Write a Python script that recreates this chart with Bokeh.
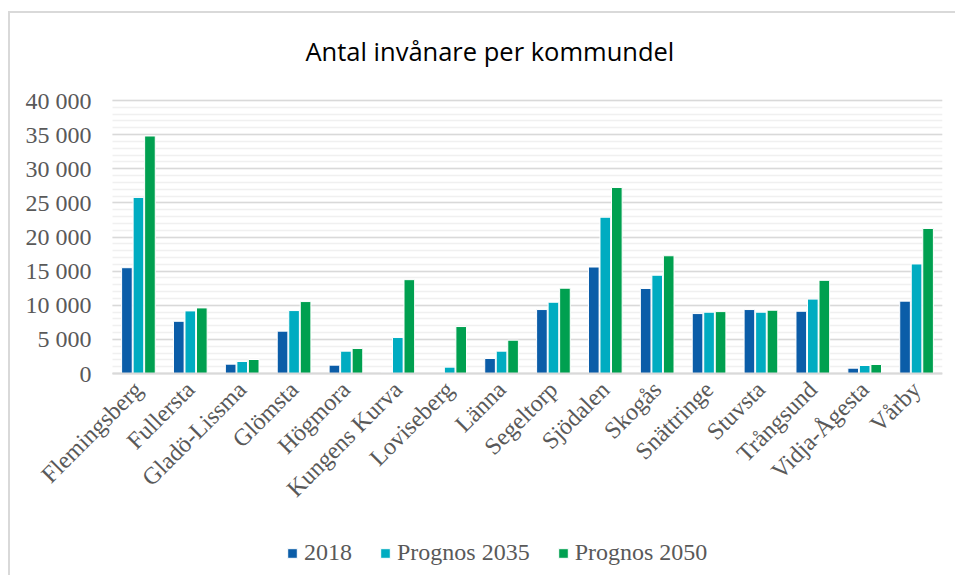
from bokeh.plotting import figure
from bokeh.models import (ColumnDataSource, Range1d, FixedTicker, Grid,
                          CustomJSTickFormatter, Legend, LegendItem)
from bokeh.transform import dodge
from bokeh.embed import file_html
from bokeh.resources import INLINE
import math

categories = ["Flemingsberg", "Fullersta", "Gladö-Lissma", "Glömsta", "Högmora",
              "Kungens Kurva", "Loviseberg", "Länna", "Segeltorp", "Sjödalen",
              "Skogås", "Snättringe", "Stuvsta", "Trångsund", "Vidja-Ågesta", "Vårby"]
v2018 = [15500, 7650, 1370, 6200, 1220, 150, 0, 2200, 9370, 15600,
         12450, 8780, 9370, 9120, 780, 10600]
v2035 = [25800, 9170, 1760, 9220, 3270, 5270, 930, 3270, 10440, 22900,
         14400, 8980, 8980, 10900, 1170, 16050]
v2050 = [34800, 9610, 2050, 10540, 3660, 13750, 6880, 4880, 12500, 27250,
         17250, 9070, 9270, 13650, 1320, 21250]
series_names = ["2018", "Prognos 2035", "Prognos 2050"]
colors = ["#0B5DA8", "#00ACC1", "#00A050"]
title_text = "Antal invånare per kommundel"
y_max = 40000
y_major = list(range(0, y_max + 1, 5000))
y_minor = list(range(0, y_max + 1, 1000))

n = len(categories)
xi = list(range(n))
src = ColumnDataSource(dict(xi=xi, a=v2018, b=v2035, c=v2050))

# layout (pixels)
plot_w = 830          # width of the category band
left_px = 102         # room for the y labels, inside the frame
cat_px = plot_w / n
plot_h = 273          # 0 .. y_max
top_px = 20           # blank above y_max
below_px = 202        # room for x labels and legend, inside the frame
u = y_max / plot_h
x_lo, x_hi = -0.5, n - 0.5

p = figure(frame_width=plot_w + left_px, frame_height=plot_h + top_px + below_px,
           x_range=Range1d(x_lo - left_px / cat_px, x_hi),
           y_range=Range1d(-below_px * u, y_max + top_px * u),
           output_backend="svg", toolbar_location=None,
           min_border_left=0, min_border_right=13, min_border_top=67, min_border_bottom=0)
p.styles = {"border-left": "2px solid #d9d9d9", "border-top": "2px solid #d9d9d9",
            "margin-top": "11px", "margin-left": "8px"}
p.outline_line_color = None
p.background_fill_color = "white"

renderers = []
for col, off, c in zip(["a", "b", "c"], [-0.222, 0.0, 0.222], colors):
    r = p.vbar(x=dodge("xi", off), top=col, width=0.205, source=src,
               fill_color=c, line_color="white", line_width=1)
    renderers.append(r)

serif = "Liberation Serif"
lab_color = "#595959"

yax = p.yaxis[0]
yax.fixed_location = x_lo
yax.ticker = FixedTicker(ticks=y_major, minor_ticks=y_minor)
yax.formatter = CustomJSTickFormatter(
    code="return Math.round(tick).toString().replace(/\\B(?=(\\d{3})+(?!\\d))/g, ' ');")
yax.axis_line_color = None
yax.major_tick_line_color = None
yax.minor_tick_line_color = None
yax.major_label_standoff = 15
yax.major_label_text_font = serif
yax.major_label_text_font_size = "24px"
yax.major_label_text_color = lab_color

xax = p.xaxis[0]
xax.fixed_location = 0
xax.bounds = (x_lo, x_hi)
xax.ticker = FixedTicker(ticks=xi)
xax.major_label_overrides = {i: name for i, name in zip(xi, categories)}
xax.axis_line_color = "#d9d9d9"
xax.axis_line_width = 2
xax.major_tick_line_color = None
xax.minor_tick_line_color = None
xax.major_label_orientation = math.pi / 4
xax.major_label_standoff = 6
xax.major_label_text_font = serif
xax.major_label_text_font_size = "24px"
xax.major_label_text_color = lab_color

p.xgrid.grid_line_color = None
if "cross_bounds" in Grid.properties():
    yg = p.ygrid[0]
    yg.cross_bounds = (x_lo, x_hi)
    yg.grid_line_color = "#d9d9d9"
    yg.grid_line_width = 1.5
    yg.minor_grid_line_color = "#f0f0f0"
    yg.minor_grid_line_width = 1.5
else:
    p.ygrid.grid_line_color = None
    minor_only = [v for v in y_minor if v not in y_major]
    p.segment(x0=[x_lo] * len(minor_only), x1=[x_hi] * len(minor_only), y0=minor_only,
              y1=minor_only, line_color="#f0f0f0", line_width=1.5, level="underlay")
    p.segment(x0=[x_lo] * len(y_major), x1=[x_hi] * len(y_major), y0=y_major, y1=y_major,
              line_color="#d9d9d9", line_width=1.5, level="underlay")

p.title.text = title_text
p.title.text_font = "Open Sans"
p.title.text_font_size = "25.5px"
p.title.text_font_style = "normal"
p.title.text_color = "#000000"
p.title.align = "left"
p.title.offset = 295
p.title.standoff = 26

legend = Legend(items=[LegendItem(label=nm, renderers=[r]) for nm, r in zip(series_names, renderers)],
                orientation="horizontal", location=(276, 9), border_line_color=None,
                background_fill_alpha=0, label_text_font=serif, label_text_font_size="24px",
                label_text_color=lab_color, glyph_width=12, glyph_height=12,
                label_standoff=6, spacing=27, padding=0, margin=0)
p.add_layout(legend, "center")

open("out.html", "w").write(file_html(p, INLINE))
